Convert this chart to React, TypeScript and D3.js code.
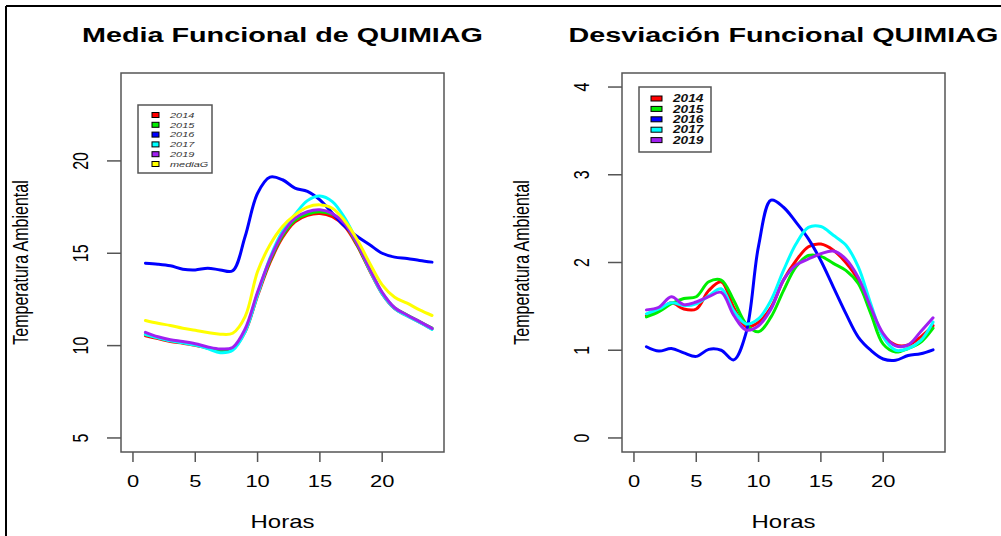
import React from "react";
import * as d3 from "d3";

// Hours of the day (x values shared by every series)
const HOURS = [1, 2, 3, 4, 5, 6, 7, 8, 9, 10, 11, 12, 13, 14, 15, 16, 17, 18, 19, 20, 21, 22, 23, 24];

// Functional mean of ambient temperature per year
const MEAN_2014 = [10.53, 10.38, 10.22, 10.13, 10.02, 9.86, 9.72, 9.82, 10.75, 12.7, 14.5, 15.85, 16.7, 17.05, 17.15, 16.98, 16.45, 15.4, 14.05, 12.8, 12.0, 11.62, 11.27, 10.9];
const MEAN_2015 = [10.6, 10.42, 10.27, 10.17, 10.05, 9.88, 9.72, 9.82, 10.8, 12.8, 14.6, 15.95, 16.78, 17.12, 17.25, 17.1, 16.55, 15.45, 14.1, 12.85, 12.04, 11.66, 11.3, 10.95];
const MEAN_2016 = [14.46, 14.41, 14.32, 14.14, 14.1, 14.19, 14.1, 14.05, 15.91, 18.25, 19.12, 18.98, 18.53, 18.35, 17.89, 17.17, 16.45, 15.91, 15.46, 15.0, 14.79, 14.72, 14.61, 14.52];
const MEAN_2017 = [10.6, 10.42, 10.26, 10.15, 10.03, 9.84, 9.62, 9.75, 10.75, 12.75, 14.75, 16.2, 17.1, 17.85, 18.1, 17.8, 16.9, 15.6, 14.1, 12.8, 12.0, 11.6, 11.25, 10.88];
const MEAN_2019 = [10.72, 10.48, 10.32, 10.22, 10.1, 9.93, 9.82, 9.9, 10.9, 12.9, 14.68, 16.05, 16.9, 17.25, 17.35, 17.15, 16.6, 15.5, 14.15, 12.88, 12.05, 11.66, 11.3, 10.93];
const MEAN_G = [11.36, 11.21, 11.09, 10.94, 10.83, 10.71, 10.62, 10.67, 11.57, 14.01, 15.46, 16.45, 17.08, 17.5, 17.62, 17.44, 16.75, 15.73, 14.46, 13.29, 12.62, 12.3, 11.93, 11.63];

// Functional standard deviation per year
const SD_2014 = [1.39, 1.45, 1.54, 1.47, 1.47, 1.68, 1.78, 1.49, 1.27, 1.32, 1.49, 1.8, 2.02, 2.18, 2.21, 2.14, 2.0, 1.8, 1.45, 1.17, 1.06, 1.06, 1.15, 1.28];
const SD_2015 = [1.38, 1.44, 1.53, 1.59, 1.61, 1.78, 1.8, 1.57, 1.3, 1.21, 1.38, 1.68, 1.95, 2.08, 2.07, 1.99, 1.91, 1.76, 1.42, 1.07, 0.98, 1.02, 1.09, 1.25];
const SD_2016 = [1.04, 0.99, 1.02, 0.97, 0.93, 1.01, 1.0, 0.89, 1.2, 2.19, 2.71, 2.63, 2.46, 2.27, 2.02, 1.72, 1.42, 1.15, 1.0, 0.9, 0.885, 0.94, 0.96, 1.005];
const SD_2017 = [1.415, 1.47, 1.54, 1.51, 1.53, 1.62, 1.7, 1.45, 1.3, 1.36, 1.57, 1.91, 2.21, 2.4, 2.41, 2.31, 2.2, 1.95, 1.53, 1.15, 1.0, 1.02, 1.11, 1.32];
const SD_2019 = [1.46, 1.49, 1.61, 1.52, 1.55, 1.61, 1.66, 1.4, 1.23, 1.28, 1.47, 1.8, 1.97, 2.04, 2.1, 2.13, 2.04, 1.83, 1.49, 1.19, 1.05, 1.06, 1.21, 1.37];

const X_TICKS = [0, 5, 10, 15, 20];
const MEAN_TICKS = [5, 10, 15, 20];
const SD_TICKS = [0, 1, 2, 3, 4];

const MEAN_SERIES = [
  { name: "2014", color: "#ff0000", values: MEAN_2014 },
  { name: "2015", color: "#00ee00", values: MEAN_2015 },
  { name: "2016", color: "#0000ff", values: MEAN_2016 },
  { name: "2017", color: "#00ffff", values: MEAN_2017 },
  { name: "2019", color: "#a020f0", values: MEAN_2019 },
  { name: "mediaG", color: "#ffff00", values: MEAN_G },
];

const SD_SERIES = [
  { name: "2014", color: "#ff0000", values: SD_2014 },
  { name: "2015", color: "#00ee00", values: SD_2015 },
  { name: "2016", color: "#0000ff", values: SD_2016 },
  { name: "2017", color: "#00ffff", values: SD_2017 },
  { name: "2019", color: "#a020f0", values: SD_2019 },
];

const FONT = "'Liberation Sans', Arial, sans-serif";
const SX = 1.37; // horizontal glyph stretch of the figure

type TxtProps = {
  x: number;
  y: number;
  size: number;
  rot?: boolean;
  anchor?: string;
  weight?: string;
  italic?: boolean;
  fill?: string;
  children: React.ReactNode;
};

function Txt({ x, y, size, rot, anchor = "middle", weight = "normal", italic, fill = "#000", children }: TxtProps) {
  return (
    <text
      transform={`translate(${x},${y}) scale(${SX},1)${rot ? " rotate(-90)" : ""}`}
      fontSize={size}
      fontFamily={FONT}
      fontWeight={weight}
      fontStyle={italic ? "italic" : "normal"}
      textAnchor={anchor}
      fill={fill}
    >
      {children}
    </text>
  );
}

type PanelProps = {
  left: number;
  title: string;
  series: { name: string; color: string; values: number[] }[];
  yDomain: [number, number];
  yTicks: number[];
  legend: { x: number; y: number; w: number; h: number; sqX: number; sqW: number; rowY: number; step: number; textX: number; size: number; bold: boolean; fill: string };
};

function Panel({ left, title, series, yDomain, yTicks, legend }: PanelProps) {
  const top = 73;
  const bottom = 452;
  const right = left + 323;
  const x = d3.scaleLinear().domain([-0.96, 24.96]).range([left, right]);
  const y = d3.scaleLinear().domain(yDomain).range([bottom, top]);
  const line = d3
    .line<number>()
    .x((_, i) => x(HOURS[i]))
    .y((d) => y(d))
    .curve(d3.curveCatmullRom.alpha(0.5));
  const cx = (left + right) / 2;
  const axisColor = "#555";

  return (
    <g>
      <Txt x={cx} y={42} size={21} weight="bold">{title}</Txt>

      {series.map((s) => (
        <path
          key={s.name}
          d={line(s.values) || ""}
          fill="none"
          stroke={s.color}
          strokeWidth={3}
          strokeLinejoin="round"
          strokeLinecap="round"
        />
      ))}

      <rect x={left} y={top} width={right - left} height={bottom - top} fill="none" stroke={axisColor} strokeWidth={1.5} />

      {X_TICKS.map((t) => (
        <g key={t}>
          <line x1={x(t)} x2={x(t)} y1={bottom} y2={bottom + 10} stroke={axisColor} strokeWidth={1.5} />
          <Txt x={x(t)} y={487} size={16}>{t}</Txt>
        </g>
      ))}
      {yTicks.map((t) => (
        <g key={t}>
          <line x1={left - 14} x2={left} y1={y(t)} y2={y(t)} stroke={axisColor} strokeWidth={1.5} />
          <Txt x={left - 33} y={y(t)} size={16} rot>{t}</Txt>
        </g>
      ))}

      <Txt x={cx} y={528} size={17.5}>Horas</Txt>
      <Txt x={left - 93} y={(top + bottom) / 2} size={16} rot>Temperatura Ambiental</Txt>

      <rect x={legend.x} y={legend.y} width={legend.w} height={legend.h} fill="#fff" stroke={axisColor} strokeWidth={1.5} />
      {series.map((s, i) => {
        const ry = legend.rowY + i * legend.step;
        return (
          <g key={s.name}>
            <rect x={legend.sqX} y={ry - 2.5} width={legend.sqW} height={5} fill={s.color} stroke="#000" strokeWidth={1} />
            <Txt
              x={legend.textX}
              y={ry + legend.size * 0.36}
              size={legend.size}
              anchor="start"
              italic
              weight={legend.bold ? "bold" : "normal"}
              fill={legend.fill}
            >
              {s.name}
            </Txt>
          </g>
        );
      })}
    </g>
  );
}

export default function App() {
  return (
    <svg width={1001} height={536} style={{ position: "absolute", left: 0, top: 0, background: "#fff" }}>
      <rect x={0} y={0} width={1001} height={536} fill="#fff" />
      <line x1={6} x2={1001} y1={6} y2={6} stroke="#000" strokeWidth={2} />
      <line x1={6} x2={6} y1={6} y2={536} stroke="#000" strokeWidth={2} />
      <Panel
        left={121}
        title="Media Funcional de QUIMIAG"
        series={MEAN_SERIES}
        yDomain={[4.24, 24.76]}
        yTicks={MEAN_TICKS}
        legend={{ x: 138, y: 105, w: 74, h: 68, sqX: 152, sqW: 7, rowY: 115, step: 9.8, textX: 170, size: 8, bold: false, fill: "#333" }}
      />
      <Panel
        left={622}
        title="Desviación Funcional QUIMIAG"
        series={SD_SERIES}
        yDomain={[-0.16, 4.16]}
        yTicks={SD_TICKS}
        legend={{ x: 639, y: 87, w: 72, h: 65, sqX: 651, sqW: 11, rowY: 98.5, step: 10.4, textX: 673, size: 10, bold: true, fill: "#111" }}
      />
    </svg>
  );
}
